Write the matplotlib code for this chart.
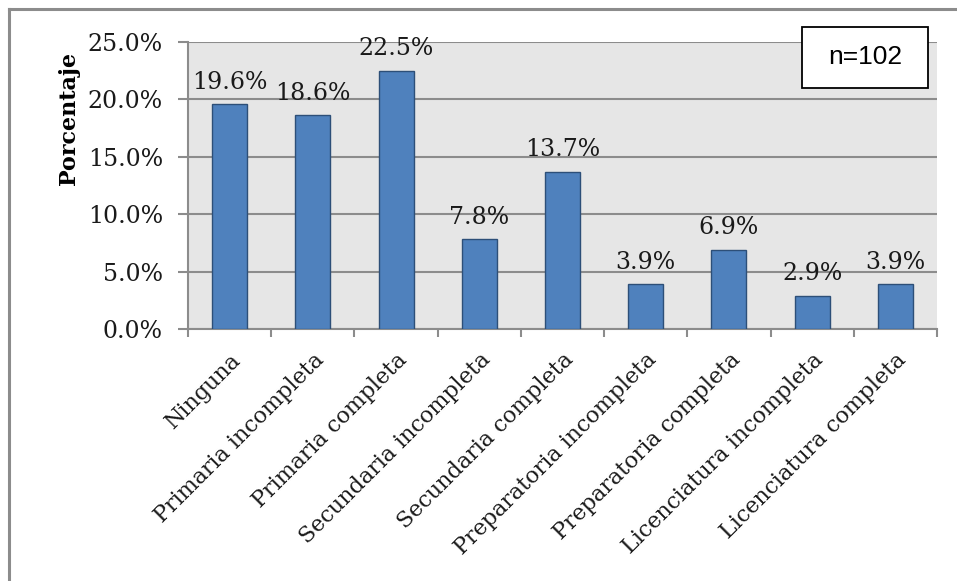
import matplotlib

matplotlib.use("Agg")
import matplotlib.pyplot as plt
import matplotlib.ticker as mticker
from matplotlib.lines import Line2D
from matplotlib.patches import Rectangle

categories = [
    "Ninguna",
    "Primaria incompleta",
    "Primaria completa",
    "Secundaria incompleta",
    "Secundaria completa",
    "Preparatoria incompleta",
    "Preparatoria completa",
    "Licenciatura incompleta",
    "Licenciatura completa",
]
percent = [19.6, 18.6, 22.5, 7.8, 13.7, 3.9, 6.9, 2.9, 3.9]
yticks = [0, 5, 10, 15, 20, 25]

serif = ["DejaVu Serif"]
W, H = 957, 581

fig = plt.figure(figsize=(W / 100, H / 100), dpi=100)
fig.patch.set_facecolor("white")
# outer frame: only the left and top edges show
fig.add_artist(Line2D([9 / W, 9 / W], [0, 1 - 9 / H], transform=fig.transFigure,
                      color="#8c8c8c", linewidth=2.2))
fig.add_artist(Line2D([9 / W, 1], [1 - 9 / H, 1 - 9 / H], transform=fig.transFigure,
                      color="#8c8c8c", linewidth=2.2))

ax = fig.add_axes([188 / W, 1 - 329 / H, (937 - 188) / W, (329 - 42) / H])
ax.set_facecolor("#e6e6e6")

x = list(range(len(categories)))
ax.bar(x, percent, width=0.42, color="#4f81bd", edgecolor="#2d4f78", linewidth=1.0, zorder=3)

for xi, v in zip(x, percent):
    ax.text(xi, v + 0.9, f"{v:.1f}%", ha="center", va="bottom", fontsize=17,
            family=serif, color="#1a1a1a", zorder=4)

ax.set_xlim(-0.5, len(categories) - 0.5)
ax.set_ylim(0, 25)
ax.set_yticks(yticks)
ax.yaxis.set_major_formatter(mticker.FuncFormatter(lambda v, _p: f"{v:.1f}%"))
ax.grid(True, axis="y", color="#8c8c8c", linewidth=1.5, zorder=1)
ax.set_axisbelow(True)

for side in ("top", "right"):
    ax.spines[side].set_visible(False)
ax.spines["left"].set_color("#8c8c8c")
ax.spines["left"].set_linewidth(1.5)
ax.spines["bottom"].set_color("#8c8c8c")
ax.spines["bottom"].set_linewidth(1.5)

ax.set_xticks([i - 0.5 for i in range(len(categories) + 1)], minor=False)
ax.set_xticklabels([])
ax.set_xticks(x, minor=True)
ax.set_xticklabels(categories, minor=True, rotation=45, ha="right", rotation_mode="anchor",
                   fontsize=16, family=serif, color="#1a1a1a")
ax.tick_params(axis="x", which="major", length=6, width=1.5, color="#8c8c8c")
ax.tick_params(axis="x", which="minor", length=0, pad=14)
ax.tick_params(axis="y", length=7, width=1.5, color="#8c8c8c", labelsize=17, pad=11,
               labelcolor="#1a1a1a")
for lab in ax.get_yticklabels():
    lab.set_family(serif)

ax.set_ylabel("Porcentaje", fontsize=16, fontweight="bold", family=serif)
ax.yaxis.set_label_coords((80 - 188) / 749, (329 - 118) / 287)

fig.add_artist(Rectangle((802 / W, 1 - 88 / H), 126 / W, 61 / H, transform=fig.transFigure,
                         facecolor="white", edgecolor="black", linewidth=1.3, zorder=5))
fig.text(865 / W, 1 - 57.5 / H, "n=102", ha="center", va="center", fontsize=19,
         family=["Liberation Sans"], color="black", zorder=6)

fig.savefig("out.png", dpi=100)
